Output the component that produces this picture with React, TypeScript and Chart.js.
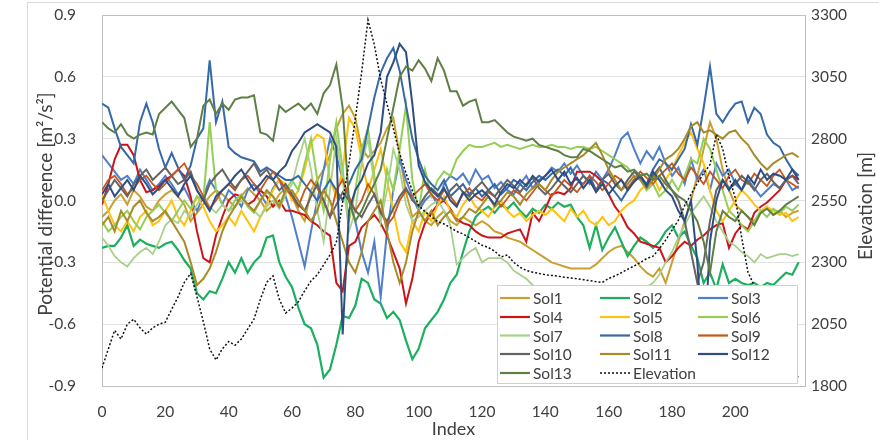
import React, { useEffect, useRef } from 'react';
import { Chart, registerables } from 'chart.js';
Chart.register(...registerables);

const INDEX = [
  0, 2, 4, 6, 8, 10, 12, 14, 16, 18, 20, 22, 24, 26, 28, 30, 32, 34, 36, 38,
  40, 42, 44, 46, 48, 50, 52, 54, 56, 58, 60, 62, 64, 66, 68, 70, 72, 74, 76, 78,
  80, 82, 84, 86, 88, 90, 92, 94, 96, 98, 100, 102, 104, 106, 108, 110, 112, 114, 116, 118,
  120, 122, 124, 126, 128, 130, 132, 134, 136, 138, 140, 142, 144, 146, 148, 150, 152, 154, 156, 158,
  160, 162, 164, 166, 168, 170, 172, 174, 176, 178, 180, 182, 184, 186, 188, 190, 192, 194, 196, 198,
  200, 202, 204, 206, 208, 210, 212, 214, 216, 218, 220,
];

const X_TICKS = [0, 20, 40, 60, 80, 100, 120, 140, 160, 180, 200];
const LEFT_TICKS = [-0.9, -0.6, -0.3, 0.0, 0.3, 0.6, 0.9];
const RIGHT_TICKS = [1800, 2050, 2300, 2550, 2800, 3050, 3300];

const sol1 = [
  -0.08, -0.05, 0.00, 0.03, -0.02, 0.05, 0.02, -0.03, -0.05, 0.00,
  0.03, 0.05, 0.02, -0.02, -0.10, -0.06, -0.02, 0.02, 0.05, 0.03,
  0.00, -0.03, 0.02, 0.06, 0.03, 0.00, -0.05, -0.02, 0.03, 0.06,
  0.02, -0.05, -0.10, 0.05, 0.10, 0.15, 0.22, 0.35, 0.42, 0.46,
  0.40, 0.25, 0.21, 0.24, 0.28, 0.35, 0.40, 0.22, 0.04, -0.08,
  -0.05, -0.10, -0.12, -0.08, -0.05, -0.10, -0.12, -0.08, -0.10, -0.12,
  -0.10, -0.12, -0.15, -0.16, -0.18, -0.19, -0.20, -0.22, -0.24, -0.26,
  -0.28, -0.30, -0.31, -0.32, -0.33, -0.33, -0.33, -0.33, -0.31, -0.28,
  -0.25, -0.23, -0.22, -0.25, -0.28, -0.32, -0.35, -0.37, -0.33, -0.40,
  -0.30, -0.20, -0.10, 0.00, 0.12, 0.25, 0.38, 0.30, 0.15, 0.05,
  -0.02, -0.05, -0.08, -0.10, -0.06, -0.03, -0.07, -0.05, -0.08, -0.06,
  -0.05,
];
const sol2 = [
  -0.23, -0.22, -0.22, -0.18, -0.12, -0.22, -0.19, -0.21, -0.22, -0.23,
  -0.21, -0.20, -0.24, -0.29, -0.33, -0.45, -0.48, -0.44, -0.45, -0.38,
  -0.30, -0.35, -0.28, -0.35, -0.30, -0.27, -0.18, -0.17, -0.30, -0.37,
  -0.42, -0.52, -0.60, -0.62, -0.70, -0.86, -0.82, -0.70, -0.56, -0.57,
  -0.51, -0.38, -0.40, -0.48, -0.50, -0.57, -0.54, -0.58, -0.68, -0.77,
  -0.72, -0.62, -0.58, -0.54, -0.48, -0.40, -0.36, -0.25, -0.15, -0.08,
  -0.05, -0.03, -0.06, -0.02, -0.04, -0.01, -0.05, -0.08, -0.04, -0.06,
  -0.02, -0.04, -0.01, -0.03, -0.02, -0.08, -0.12, -0.23, -0.12, -0.24,
  -0.18, -0.13, -0.20, -0.27, -0.22, -0.18, -0.20, -0.23, -0.20, -0.15,
  -0.12, -0.18, -0.15, -0.22, -0.28, -0.40, -0.35, -0.43, -0.31, -0.40,
  -0.38, -0.40, -0.41, -0.40, -0.42, -0.40, -0.41, -0.38, -0.35, -0.36,
  -0.30,
];
const sol3 = [
  0.22, 0.18, 0.14, 0.10, 0.12, 0.08, 0.15, 0.10, 0.05, 0.08,
  0.12, 0.08, 0.03, 0.06, 0.00, -0.05, 0.02, 0.10, 0.05, -0.02,
  0.05, 0.02, -0.03, 0.05, 0.08, 0.03, -0.02, 0.06, 0.10, 0.02,
  -0.08, -0.20, -0.32, -0.15, 0.00, 0.15, 0.30, 0.22, 0.10, 0.00,
  -0.10, -0.25, -0.35, -0.20, -0.47, -0.15, 0.05, 0.20, 0.10, 0.02,
  -0.05, 0.00, 0.03, -0.02, 0.08, 0.12, 0.10, 0.13, 0.08, 0.15,
  0.10, 0.12, 0.06, 0.09, 0.05, 0.03, 0.08, 0.12, 0.06, 0.10,
  0.12, 0.16, 0.14, 0.18, 0.13, 0.17, 0.12, 0.08, 0.14, 0.10,
  0.15, 0.22, 0.30, 0.33, 0.25, 0.18, 0.24, 0.20, 0.26, 0.18,
  0.12, 0.16, 0.08, 0.20, 0.10, 0.15, 0.05, 0.18, 0.12, 0.15,
  0.08, 0.05, 0.10, 0.06, 0.02, 0.05, 0.08, 0.06, 0.10, 0.05,
  0.07,
];
const sol4 = [
  -0.02, 0.08, 0.20, 0.27, 0.27, 0.22, 0.10, 0.04, 0.05, 0.07,
  0.10, 0.12, 0.15, 0.12, 0.02, -0.15, -0.28, -0.30, -0.17, -0.08,
  0.00, 0.03, 0.02, -0.02, 0.00, 0.05, 0.02, -0.03, 0.00, -0.05,
  -0.05, -0.06, -0.07, -0.10, -0.12, -0.15, -0.17, -0.40, -0.44, -0.22,
  -0.20, -0.13, -0.10, -0.07, -0.11, -0.17, -0.25, -0.33, -0.50, -0.38,
  -0.20, -0.11, -0.06, -0.02, 0.00, -0.04, -0.09, -0.11, -0.12, -0.15,
  -0.17, -0.18, -0.18, -0.18, -0.16, -0.15, -0.14, -0.20, -0.06, -0.10,
  -0.04, 0.03, 0.04, 0.03, 0.06, 0.14, 0.14, 0.14, 0.12, 0.09,
  0.03, -0.03, -0.07, -0.13, -0.16, -0.20, -0.21, -0.22, -0.23, -0.30,
  -0.27, -0.23, -0.20, -0.22, -0.19, -0.17, -0.14, -0.12, -0.11, -0.23,
  -0.16, -0.12, -0.14, -0.06, -0.03, -0.01, 0.02, 0.05, 0.10, 0.12,
  0.10,
];
const sol5 = [
  0.03, -0.05, -0.12, -0.15, -0.10, -0.15, -0.08, -0.05, -0.12, -0.10,
  -0.05, 0.00, -0.08, -0.12, -0.05, 0.02, -0.03, -0.10, -0.15, -0.12,
  -0.08, -0.12, -0.05, -0.10, -0.15, -0.08, -0.02, 0.05, 0.10, 0.08,
  0.00, 0.05, 0.15, 0.28, 0.32, 0.30, 0.10, 0.02, 0.15, 0.40,
  0.35, 0.20, 0.05, 0.15, 0.25, 0.10, -0.05, -0.20, -0.25, -0.10,
  -0.15, -0.05, -0.10, -0.02, 0.02, -0.05, -0.08, -0.02, 0.02, -0.03,
  -0.05, -0.08, -0.03, 0.00, -0.05, -0.08, -0.06, -0.10, -0.07, -0.05,
  -0.07, -0.04, -0.07, -0.10, -0.04, -0.08, -0.05, -0.10, -0.12, -0.08,
  -0.12, -0.10, -0.05, -0.02, 0.00, 0.05, 0.08, 0.12, 0.05, 0.10,
  0.15, 0.22, 0.28, 0.33, 0.25, 0.18, 0.05, -0.05, -0.10, -0.05,
  0.00, 0.05, 0.02, -0.02, -0.05, -0.03, -0.05, -0.07, -0.06, -0.10,
  -0.08,
];
const sol6 = [
  -0.10, -0.15, -0.12, -0.08, -0.05, -0.10, -0.14, -0.08, -0.05, -0.02,
  -0.06, -0.10, -0.05, 0.00, -0.04, 0.02, 0.00, 0.38, 0.05, -0.02,
  -0.05, 0.00, 0.03, -0.03, -0.06, 0.00, 0.04, 0.02, -0.02, 0.05,
  0.10, 0.05, 0.18, 0.30, 0.10, -0.05, 0.20, 0.38, 0.15, -0.10,
  0.05, 0.25, 0.35, 0.12, -0.10, 0.15, 0.05, 0.25, 0.46, 0.10,
  -0.05, 0.15, 0.02, 0.10, 0.14, 0.12, 0.20, 0.24, 0.27, 0.26,
  0.26, 0.27, 0.28, 0.26, 0.27, 0.26, 0.25, 0.26, 0.27, 0.26,
  0.26, 0.27, 0.26, 0.26, 0.25, 0.26, 0.26, 0.25, 0.26, 0.24,
  0.22, 0.20, 0.18, 0.16, 0.12, 0.10, 0.05, 0.08, 0.02, 0.05,
  0.10, 0.05, 0.12, 0.20, 0.18, 0.30, 0.25, 0.15, 0.05, -0.05,
  -0.08, -0.12, -0.15, -0.10, -0.05, -0.08, -0.04, -0.06, -0.03, -0.05,
  -0.02,
];
const sol7 = [
  -0.18, -0.22, -0.27, -0.30, -0.32, -0.28, -0.25, -0.23, -0.26, -0.20,
  -0.12, -0.09, -0.11, -0.05, -0.08, -0.02, 0.03, -0.03, -0.06, -0.02,
  -0.05, -0.03, 0.00, -0.02, -0.05, -0.08, -0.03, 0.00, -0.04, 0.03,
  0.08, 0.20, 0.30, 0.15, -0.05, -0.20, 0.05, 0.30, 0.10, -0.15,
  -0.05, 0.18, 0.30, 0.08, -0.10, 0.05, 0.25, 0.15, -0.02, -0.10,
  -0.08, -0.05, -0.02, 0.00, -0.05, -0.12, -0.31, -0.28, -0.25, -0.23,
  -0.30, -0.28, -0.28, -0.28, -0.30, -0.34, -0.36, -0.38, -0.41, -0.43,
  -0.45, -0.47, -0.48, -0.50, -0.50, -0.52, -0.52, -0.50, -0.50, -0.48,
  -0.48, -0.47, -0.46, -0.45, -0.44, -0.43, -0.42, -0.40, -0.36, -0.30,
  -0.25, -0.18, -0.12, -0.06, -0.02, 0.02, -0.03, -0.10, -0.15, -0.20,
  -0.22, -0.25, -0.27, -0.30, -0.26, -0.28, -0.27, -0.26, -0.26, -0.27,
  -0.26,
];
const sol8 = [
  0.47, 0.45, 0.35, 0.26, 0.22, 0.18, 0.38, 0.47, 0.38, 0.25,
  0.16, 0.23, 0.16, 0.10, 0.17, 0.30, 0.35, 0.68, 0.38, 0.48,
  0.26, 0.23, 0.21, 0.20, 0.19, 0.14, 0.16, 0.14, 0.12, 0.10,
  0.10, 0.12, 0.08, 0.04, 0.00, 0.05, 0.10, 0.05, 0.00, 0.08,
  0.15, 0.20, 0.35, 0.50, 0.62, 0.69, 0.74, 0.63, 0.46, 0.30,
  0.20, 0.12, 0.08, 0.05, 0.10, 0.02, 0.05, 0.08, 0.03, 0.06,
  0.02, 0.05, 0.08, 0.03, 0.06, 0.10, 0.08, 0.05, 0.09, 0.12,
  0.10, 0.13, 0.15, 0.12, 0.16, 0.10, 0.08, 0.12, 0.05, 0.10,
  0.08, 0.04, 0.00, 0.05, 0.10, 0.12, 0.08, 0.15, 0.20, 0.18,
  0.15, 0.20, 0.25, 0.37, 0.27, 0.45, 0.65, 0.42, 0.38, 0.43,
  0.47, 0.48, 0.38, 0.45, 0.42, 0.32, 0.28, 0.26, 0.20, 0.15,
  0.12,
];
const sol9 = [
  0.05, 0.10, 0.12, 0.08, 0.03, 0.06, 0.10, 0.12, 0.08, 0.05,
  0.08, 0.12, 0.15, 0.18, 0.12, 0.08, 0.02, -0.04, 0.00, 0.05,
  0.08, 0.05, 0.10, 0.12, 0.08, 0.05, 0.10, 0.14, 0.10, 0.06,
  0.02, -0.03, 0.05, 0.10, 0.06, 0.00, -0.08, 0.05, 0.10, 0.02,
  -0.05, 0.00, 0.08, 0.03, -0.05, -0.12, -0.08, 0.00, 0.05, 0.02,
  0.05, 0.08, 0.03, 0.00, 0.05, 0.02, -0.02, 0.03, 0.06, 0.02,
  0.00, 0.04, 0.02, -0.03, 0.01, 0.05, 0.03, 0.00, 0.04, 0.08,
  0.05, 0.02, 0.06, 0.10, 0.07, 0.04, 0.08, 0.12, 0.09, 0.05,
  0.08, 0.12, 0.10, 0.06, 0.10, 0.14, 0.11, 0.08, 0.12, 0.15,
  0.18, 0.13, 0.10, 0.16, 0.12, 0.08, 0.14, 0.10, 0.06, 0.12,
  0.15, 0.10, 0.08, 0.13, 0.10, 0.07, 0.12, 0.15, 0.10, 0.08,
  0.06,
];
const sol10 = [
  0.00, 0.05, 0.10, 0.06, 0.02, 0.08, 0.12, 0.15, 0.10, 0.13,
  0.16, 0.12, 0.08, 0.10, 0.14, 0.05, 0.00, 0.08, 0.12, 0.15,
  0.10, 0.06, 0.10, 0.14, 0.18, 0.12, 0.15, 0.10, 0.05, 0.08,
  0.03, -0.02, -0.05, 0.02, 0.08, 0.00, -0.08, -0.02, 0.04, 0.00,
  -0.05, -0.08, -0.02, 0.03, -0.06, -0.10, -0.04, 0.02, 0.06, 0.00,
  -0.03, 0.02, 0.06, 0.03, 0.00, 0.05, 0.08, 0.04, 0.02, 0.06,
  0.09, 0.05, 0.02, 0.06, 0.10, 0.07, 0.04, 0.08, 0.11, 0.06,
  0.03, 0.06, 0.10, 0.07, 0.04, 0.08, 0.12, 0.09, 0.05, 0.10,
  0.13, 0.08, 0.05, 0.10, 0.14, 0.11, 0.07, 0.12, 0.16, 0.10,
  0.05, 0.00, -0.10, -0.25, -0.40, -0.30, -0.10, 0.05, 0.10, 0.06,
  0.08, 0.12, 0.09, 0.05, 0.10, 0.13, 0.09, 0.06, 0.10, 0.12,
  0.08,
];
const sol11 = [
  -0.12, -0.08, -0.15, -0.05, -0.10, -0.03, 0.00, -0.06, -0.10, -0.08,
  -0.05, -0.10, -0.15, -0.20, -0.30, -0.41, -0.38, -0.33, -0.25, -0.15,
  -0.08, -0.03, 0.02, -0.02, -0.05, 0.00, 0.05, 0.02, -0.03, 0.05,
  0.05, 0.00, -0.05, -0.10, -0.05, 0.05, 0.00, -0.10, -0.20, -0.30,
  -0.35, -0.25, -0.10, -0.05, 0.00, -0.15, -0.30, -0.40, -0.30, -0.15,
  -0.05, -0.10, -0.05, -0.12, -0.08, -0.05, -0.10, -0.08, -0.04, -0.06,
  -0.02, 0.02, -0.03, 0.00, 0.04, 0.02, -0.02, 0.03, 0.06, 0.08,
  0.05, 0.10, 0.14, 0.16, 0.18, 0.20, 0.22, 0.25, 0.28, 0.22,
  0.15, 0.10, 0.05, 0.08, 0.12, 0.10, 0.06, 0.10, 0.15, 0.20,
  0.22, 0.25, 0.30, 0.36, 0.38, 0.33, 0.34, 0.32, 0.30, 0.33,
  0.34, 0.30, 0.27, 0.22, 0.18, 0.15, 0.18, 0.20, 0.22, 0.23,
  0.21,
];
const sol12 = [
  0.03, 0.08, 0.02, 0.06, 0.10, 0.05, 0.12, 0.08, 0.03, 0.06,
  0.10, 0.06, 0.02, 0.08, 0.12, 0.05, 0.00, -0.05, 0.02, 0.05,
  0.08, 0.12, 0.15, 0.10, 0.05, 0.08, 0.12, 0.10, 0.14, 0.17,
  0.24, 0.28, 0.33, 0.35, 0.37, 0.35, 0.33, 0.26, -0.65, -0.05,
  0.05, 0.10, 0.18, 0.22, 0.33, 0.60, 0.67, 0.76, 0.72, 0.47,
  0.17, 0.09, 0.05, 0.02, 0.06, 0.00, -0.03, 0.04, 0.00, 0.03,
  0.05, 0.02, -0.02, 0.04, 0.08, 0.06, 0.10, 0.07, 0.12, 0.09,
  0.12, 0.15, 0.10, 0.14, 0.08, 0.11, 0.06, 0.10, 0.04, 0.08,
  0.03, 0.07, 0.10, 0.05, 0.09, 0.12, 0.07, 0.14, 0.10, 0.05,
  0.02, -0.05, -0.10, 0.00, -0.30, -0.78, -0.20, 0.00, 0.10, 0.05,
  0.10, 0.05, 0.12, 0.08, 0.15, 0.10, 0.13, 0.12, 0.10, 0.15,
  0.10,
];
const sol13 = [
  0.38, 0.35, 0.33, 0.37, 0.32, 0.30, 0.32, 0.33, 0.32, 0.42,
  0.45, 0.48, 0.44, 0.40, 0.26, 0.30, 0.46, 0.49, 0.42, 0.47,
  0.44, 0.49, 0.50, 0.50, 0.51, 0.33, 0.32, 0.29, 0.46, 0.43,
  0.45, 0.47, 0.44, 0.47, 0.42, 0.52, 0.56, 0.66, 0.45, 0.00,
  -0.10, -0.05, 0.02, 0.08, 0.15, 0.30, 0.45, 0.60, 0.65, 0.63,
  0.68, 0.64, 0.58, 0.69, 0.63, 0.53, 0.53, 0.46, 0.48, 0.49,
  0.38, 0.38, 0.39, 0.36, 0.33, 0.31, 0.30, 0.29, 0.30, 0.27,
  0.26, 0.25, 0.24, 0.22, 0.21, 0.21, 0.25, 0.24, 0.22, 0.20,
  0.18, 0.16, 0.17, 0.14, 0.15, 0.12, 0.13, 0.10, 0.12, 0.08,
  0.05, 0.02, 0.00, -0.05, -0.10, -0.20, -0.35, -0.15, -0.05, -0.08,
  -0.10, -0.05, -0.08, -0.12, -0.06, -0.04, -0.07, -0.05, -0.02, 0.00,
  0.02,
];
const elevation = [
  1873, 1950, 2025, 1990, 2050, 2070, 2035, 2010, 2035, 2050,
  2058, 2110, 2160, 2219, 2255, 2160, 2060, 1950, 1905, 1950,
  1980, 1965, 1990, 2030, 2070, 2150, 2219, 2245, 2150, 2095,
  2115, 2140, 2185, 2225, 2250, 2290, 2330, 2380, 2545, 2700,
  2880, 3070, 3280, 3180, 3040, 2940, 2840, 2740, 2660, 2590,
  2530, 2505, 2485, 2465, 2455, 2440, 2425, 2415, 2400, 2385,
  2369, 2360, 2345, 2322, 2330, 2300, 2280, 2267, 2260, 2255,
  2250, 2247, 2244, 2240, 2237, 2234, 2230, 2226, 2222, 2219,
  2235, 2245, 2258, 2272, 2285, 2300, 2315, 2325, 2355, 2390,
  2430, 2470, 2530, 2575, 2620, 2660, 2695, 2816, 2760, 2645,
  2560, 2400, 2260, 2205, 2150, 2100, 2045, 1990, 1935, 1880,
  1830,
];

const SERIES_NAMES = ['Sol1', 'Sol2', 'Sol3', 'Sol4', 'Sol5', 'Sol6', 'Sol7', 'Sol8', 'Sol9', 'Sol10', 'Sol11', 'Sol12', 'Sol13'];
const SERIES_VALUES = [sol1, sol2, sol3, sol4, sol5, sol6, sol7, sol8, sol9, sol10, sol11, sol12, sol13];
const SERIES_COLORS = [
  '#C9A030', '#1DAF5F', '#4F7FCB', '#CC1418', '#FFC20E', '#94CF55', '#A9D08A',
  '#3569A8', '#C8561C', '#646464', '#A88B28', '#2E4E82', '#5F7F45',
];
const SERIES_WIDTHS = [2, 2.2, 2, 2, 2, 2, 1.8, 2, 1.8, 2, 2, 2, 2];

const FONT = 'Lato, "Open Sans", sans-serif';
const TEXT = '#404040';
const BORDER = '#BFBFBF';
const GRID = '#E2E2E2';

const decorPlugin = {
  id: 'decor',
  beforeDraw(chart: any) {
    const ctx = chart.ctx;
    ctx.save();
    ctx.fillStyle = '#FFFFFF';
    ctx.fillRect(0, 0, chart.width, chart.height);
    ctx.strokeStyle = '#D9D9D9';
    ctx.lineWidth = 1;
    ctx.strokeRect(27.5, 2.5, 1000, 600);
    ctx.restore();
  },
  afterDraw(chart: any) {
    const ctx = chart.ctx;
    const a = chart.chartArea;
    ctx.save();
    ctx.strokeStyle = BORDER;
    ctx.lineWidth = 1;
    ctx.beginPath();
    ctx.moveTo(a.left, a.top + 0.5);
    ctx.lineTo(a.right, a.top + 0.5);
    ctx.stroke();

    ctx.fillStyle = TEXT;
    ctx.textAlign = 'center';
    ctx.textBaseline = 'middle';
    ctx.font = '18px ' + FONT;
    ctx.fillText('Index', (a.left + a.right) / 2, 429);
    ctx.font = '19px ' + FONT;
    ctx.save();
    ctx.translate(46, 204);
    ctx.rotate(-Math.PI / 2);
    ctx.fillText('Potential difference [m\u00B2/s\u00B2]', 0, 0);
    ctx.restore();
    ctx.save();
    ctx.translate(866, 206);
    ctx.rotate(-Math.PI / 2);
    ctx.fillText('Elevation [m]', 0, 0);
    ctx.restore();

    const bx = 497, by = 285, bw = 300, bh = 98;
    ctx.fillStyle = '#FFFFFF';
    ctx.fillRect(bx, by, bw, bh);
    ctx.strokeStyle = '#D0D0D0';
    ctx.strokeRect(bx + 0.5, by + 0.5, bw, bh);
    const colX = [500, 600, 698];
    const rowY = [298, 317, 335.5, 354, 373];
    const entries = chart.data.datasets;
    ctx.font = '15.5px ' + FONT;
    ctx.textAlign = 'left';
    ctx.textBaseline = 'middle';
    entries.forEach((ds: any, k: number) => {
      const cx = colX[k % 3];
      const cy = rowY[Math.floor(k / 3)];
      ctx.save();
      ctx.strokeStyle = ds.borderColor;
      ctx.lineWidth = ds.borderDash ? 1.5 : 2.2;
      ctx.setLineDash(ds.borderDash || []);
      ctx.beginPath();
      ctx.moveTo(cx, cy);
      ctx.lineTo(cx + 30, cy);
      ctx.stroke();
      ctx.restore();
      ctx.fillStyle = TEXT;
      ctx.fillText(ds.label, cx + 33, cy + 1);
    });
    ctx.restore();
  },
};

export default function App() {
  const ref = useRef<HTMLCanvasElement | null>(null);
  useEffect(() => {
    if (!ref.current) return;
    const datasets: any[] = SERIES_NAMES.map((name, i) => ({
      label: name,
      data: INDEX.map((x, k) => ({ x, y: SERIES_VALUES[i][k] })),
      borderColor: SERIES_COLORS[i],
      backgroundColor: SERIES_COLORS[i],
      borderWidth: SERIES_WIDTHS[i],
      pointRadius: 0,
      tension: 0,
      fill: false,
      yAxisID: 'y',
      order: 14 - i,
    }));
    datasets.push({
      label: 'Elevation',
      data: INDEX.map((x, k) => ({ x, y: elevation[k] })),
      borderColor: '#111111',
      backgroundColor: '#111111',
      borderWidth: 1.5,
      borderDash: [2, 2],
      pointRadius: 0,
      tension: 0,
      fill: false,
      yAxisID: 'y2',
      order: 0,
    });
    const tickFont = { family: FONT, size: 15.5 };
    const chart = new Chart(ref.current, {
      type: 'line',
      data: { datasets },
      plugins: [decorPlugin],
      options: {
        animation: false,
        responsive: false,
        devicePixelRatio: 1,
        layout: { padding: { top: 15, left: 0, right: 0, bottom: 0 } },
        plugins: { legend: { display: false }, tooltip: { enabled: false } },
        scales: {
          x: {
            type: 'linear',
            min: 0,
            max: 222,
            grid: { display: false, drawTicks: false },
            border: { display: true, color: BORDER },
            ticks: { padding: 17, font: tickFont, color: TEXT, maxRotation: 0, autoSkip: false },
            afterBuildTicks: (s: any) => { s.ticks = X_TICKS.map((v) => ({ value: v })); },
            afterFit: (s: any) => { s.height = 54; s.paddingLeft = 0; s.paddingRight = 0; },
          },
          y: {
            position: 'left',
            min: -0.9,
            max: 0.9,
            grid: { display: true, color: GRID, drawTicks: false },
            border: { display: true, color: BORDER },
            ticks: { padding: 26, font: tickFont, color: TEXT, callback: (v: any) => Number(v).toFixed(1) },
            afterBuildTicks: (s: any) => { s.ticks = LEFT_TICKS.map((v) => ({ value: v })); },
            afterFit: (s: any) => { s.width = 102; s.paddingTop = 0; s.paddingBottom = 0; },
          },
          y2: {
            position: 'right',
            min: 1800,
            max: 3300,
            grid: { display: false, drawTicks: false },
            border: { display: true, color: BORDER },
            ticks: { padding: 6, font: tickFont, color: TEXT, callback: (v: any) => String(v) },
            afterBuildTicks: (s: any) => { s.ticks = RIGHT_TICKS.map((v) => ({ value: v })); },
            afterFit: (s: any) => { s.width = 74; s.paddingTop = 0; s.paddingBottom = 0; },
          },
        },
      } as any,
    });
    return () => chart.destroy();
  }, []);
  return (
    <div style={{ position: 'absolute', left: 0, top: 0, width: 879, height: 440 }}>
      <canvas ref={ref} width={879} height={440} />
    </div>
  );
}
